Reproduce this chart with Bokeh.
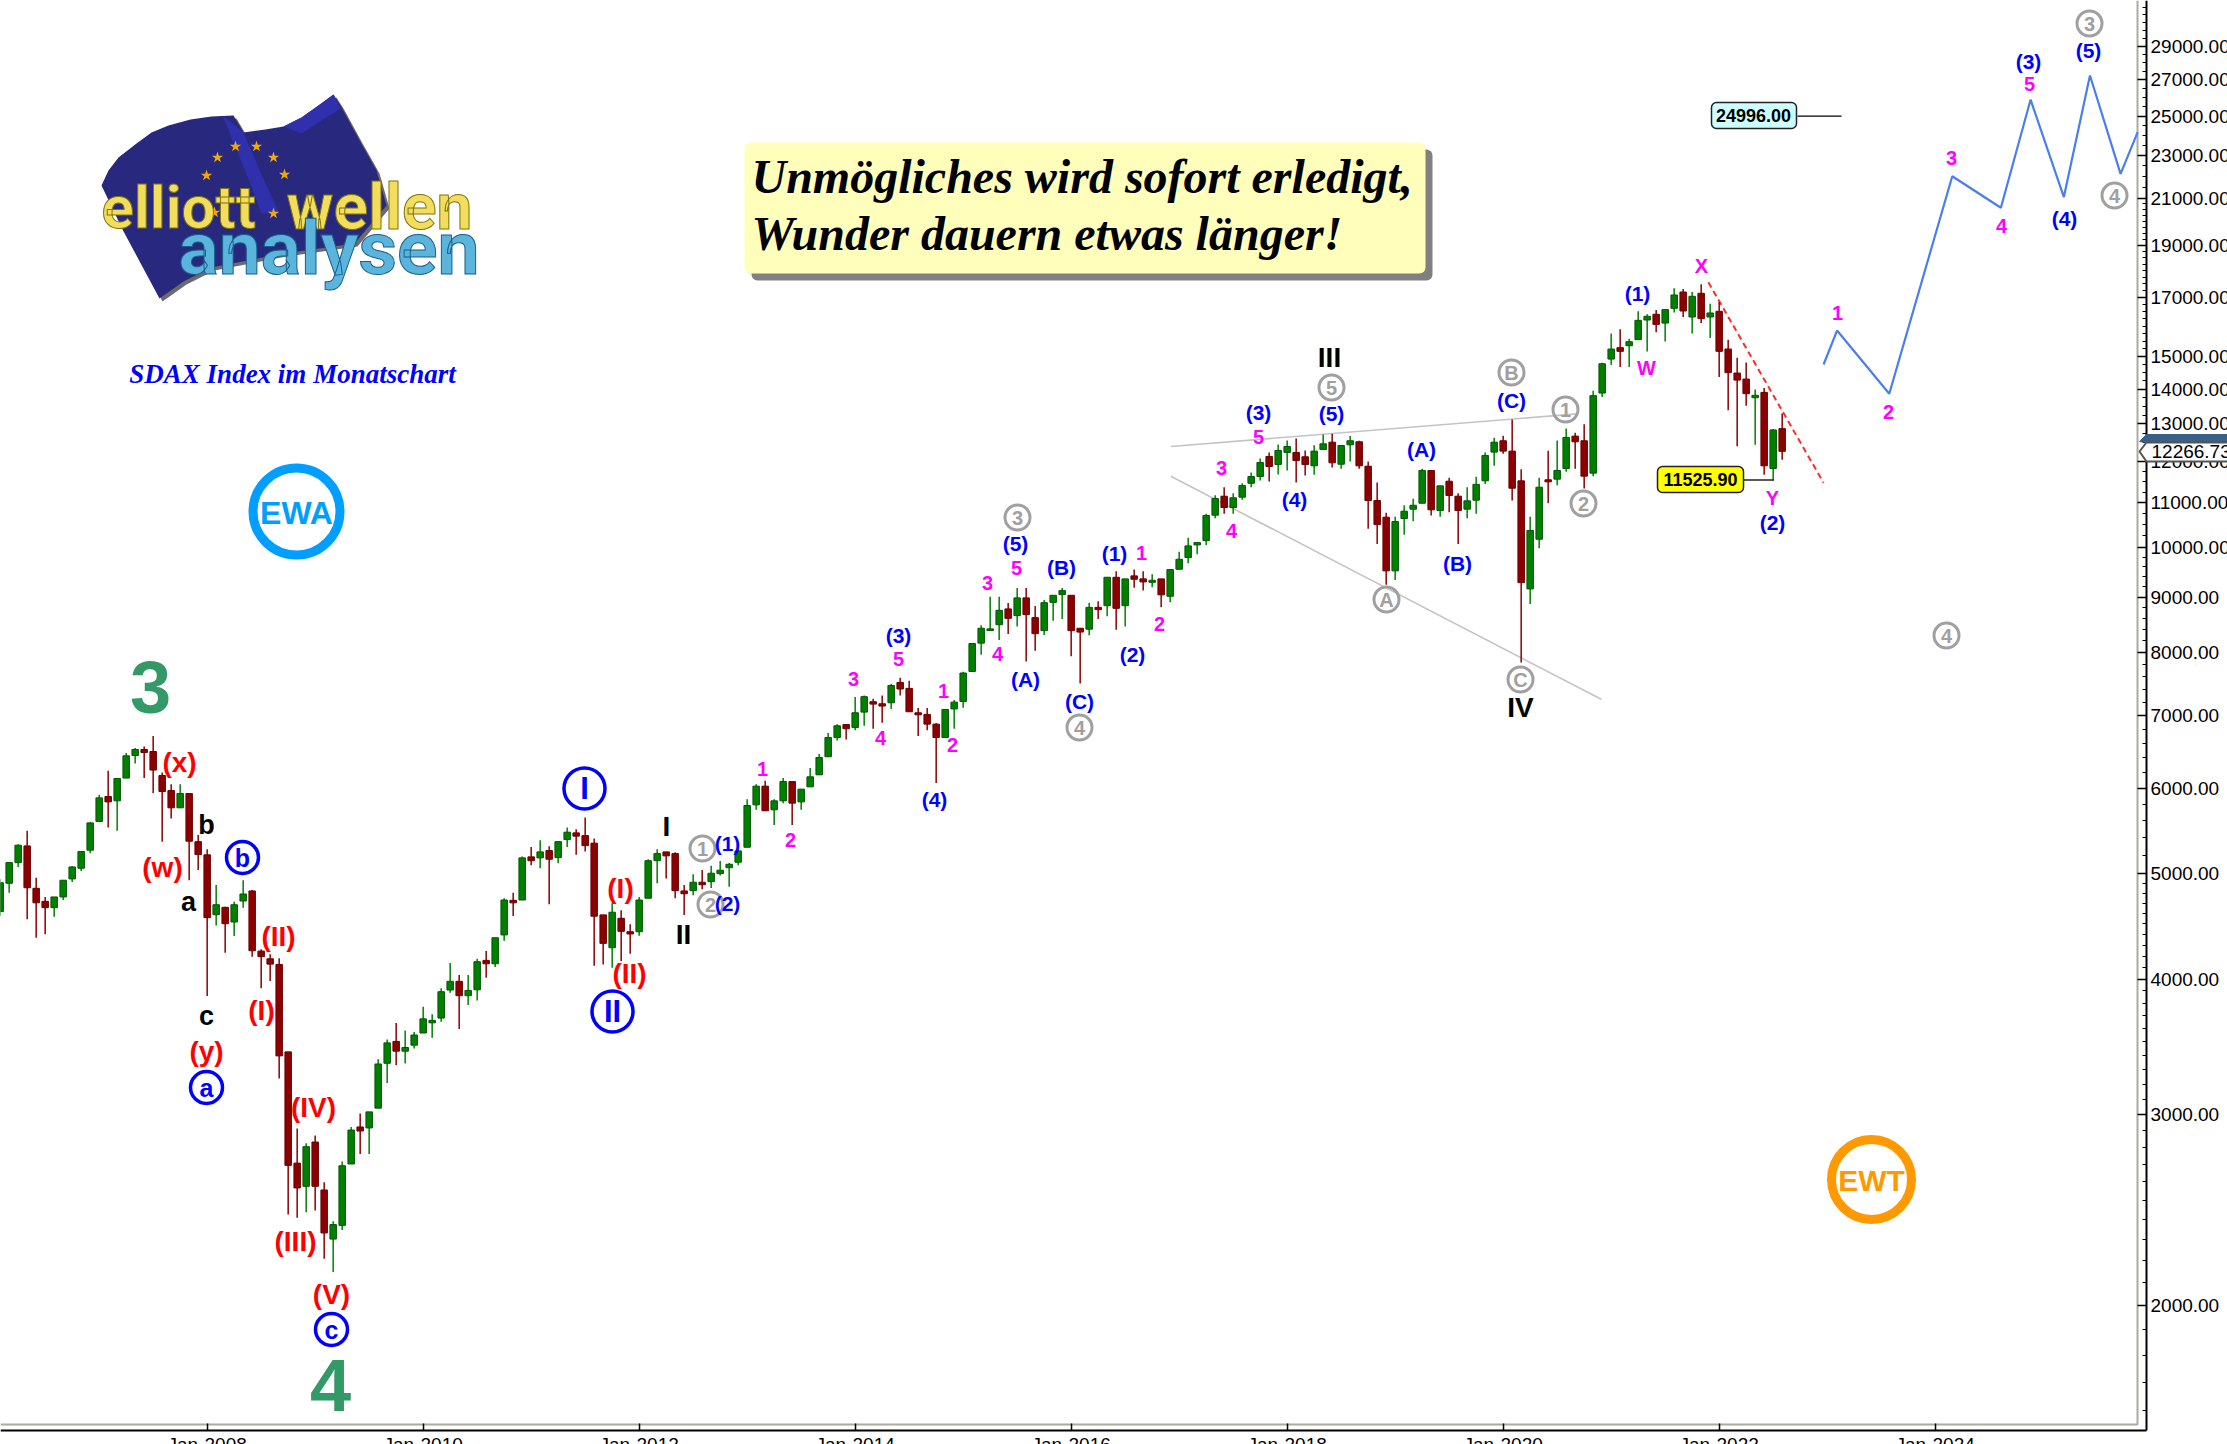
from bokeh.plotting import figure
from bokeh.embed import file_html
from bokeh.resources import INLINE
from bokeh.core.properties import value
from bokeh.models import ColumnDataSource, Range1d, FixedTicker, Label, PolyAnnotation, PrintfTickFormatter

# ---------- monthly SDAX candles, Feb-2006 .. Aug-2022 ----------
opens = [4616,4902,5122,5307,4850,4718,4655,4762,4948,5061,
5259,5590,5894,5840,6129,6430,6513,6485,6163,5969,
5754,5931,5355,5207,4586,4658,4515,4721,4823,4245,
4176,4126,3427,2706,2576,2830,2556,2303,2371,2701,
2922,2916,3041,3345,3504,3432,3476,3567,3645,3682,
3908,3981,3861,3910,4162,4132,4393,4728,4731,
5185,5174,5255,5177,5379,5456,5425,5338,4584,4275,4551,
4423,4423,4749,5143,5240,5221,4823,4826,4913,4919,
5004,5067,5126,5292,5790,6025,5730,5840,6084,5827,
6016,6172,6413,6681,6867,6823,7051,7208,7177,7192,
7509,7415,7041,7016,6873,6681,7098,7212,7686,8163,
8383,8488,8778,8654,8986,8617,8382,8901,9050,9036,
8425,8408,8807,8839,9388,8839,9416,9356,9288,9356,
9017,9549,9790,10056,10149,10711,11152,10887,11128,11462,
11629,12134,11927,12238,12238,12126,11895,12315,12507,11935,
12437,12518,11885,11050,10665,9517,10636,10848,10986,11778,
10818,11512,11152,10848,11057,11522,12246,12545,12272,11522,
9159,10178,11547,11562,11828,12669,12545,11711,13882,14921,
15286,15350,15549,16211,16410,16106,16619,17205,16315,17158,
16315,16514,15242,14485,14301,13746,13902,11828,12872]
highs = [4944,5128,5326,5480,4961,4762,4762,4934,5085,5251,
5582,5915,6224,6124,6463,6532,6554,6701,6202,6050,
6050,5931,5430,5270,4884,4664,4714,4934,4833,4261,
4216,4180,3427,2912,2822,2869,2598,2392,2716,2922,
3007,3017,3374,3519,3643,3587,3574,3771,3713,3922,
4138,4034,4034,4176,4245,4367,4749,4805,5188,
5296,5372,5304,5364,5518,5499,5637,5391,4584,4698,4629,
4493,4762,5159,5270,5240,5237,4884,4997,5043,5089,
5140,5118,5266,5861,6050,6093,5861,6129,6084,5987,
6263,6450,6744,6873,6867,7281,7302,7255,7302,7483,
7585,7537,7112,7112,6888,7091,7234,7682,8157,8477,
9010,9010,8890,9178,9178,8833,8947,9036,9178,9036,
8425,8895,8920,9388,9509,9356,9543,9509,9449,9356,
9543,9909,10208,10106,10743,11176,11366,11223,11462,11728,
12082,12238,12445,12553,12607,12289,12427,12715,12734,12419,
12669,12545,12005,11480,10766,10675,10939,11090,11820,11778,
11400,11596,11223,11366,11621,12238,12626,12680,13126,11810,
10675,11596,12282,12553,12877,12761,12993,13952,14806,15750,
15894,15583,16514,16410,16559,16573,17340,17315,17205,17486,
16783,16842,15549,14966,14815,13991,14029,12864,13295]
lows = [4574,4805,5075,4542,4367,4399,4567,4731,4916,5032,
5226,5590,5518,5480,6129,6321,6129,5936,5355,5626,
5754,4934,5043,3858,4483,4230,4383,4655,4195,3922,
3983,3239,2426,2409,2438,2447,2209,2147,2348,2701,
2759,2759,3041,3208,3331,3343,3452,3567,3532,3653,
3886,3598,3786,3823,4011,4103,4338,4574,4731,
5093,5061,4688,5115,5296,5207,5244,4114,4126,4097,4156,
4221,4386,4749,4902,4951,4749,4584,4779,4840,4854,
4983,4867,5093,5292,5730,5718,5549,5811,5549,5730,
6016,6172,6413,6638,6652,6786,6849,6806,6893,7097,
7302,7056,6701,6786,6067,6681,6806,7116,7686,7962,
8383,8216,8324,8458,7852,8033,8306,8562,8593,7937,
7493,8300,8593,8641,8400,8458,9184,9126,9190,8807,
8901,9549,9670,9859,10047,10643,10743,10743,11067,11366,
11530,11505,11678,11778,11480,11654,11671,12315,11852,11820,
12005,11820,10405,10077,9242,9336,10274,10574,10986,10704,
10675,10780,10077,10643,10743,11447,11895,12204,11050,7835,
8870,9985,10986,11413,11746,11820,11335,11636,13764,14731,
14670,14670,15549,15159,15793,15492,16469,16315,15750,16106,
15603,14362,13388,12401,13512,12437,11671,11525.90,12049]
closes = [4908,5122,5315,4856,4703,4655,4762,4934,5075,5244,
5573,5877,5827,6124,6426,6513,6471,6234,5957,5754,
5931,5360,5210,4557,4684,4499,4684,4792,4248,4195,
4129,3398,2693,2567,2802,2576,2333,2375,2691,2903,
2897,3017,3340,3493,3432,3459,3552,3676,3664,3894,
3981,3861,3905,4150,4132,4367,4731,4703,5174,
5143,5240,5159,5355,5464,5418,5310,4571,4315,4610,4427,
4402,4731,5143,5221,5196,4826,4795,4913,4887,5008,
5040,5104,5251,5782,6025,5718,5840,6084,5811,5987,
6146,6403,6681,6849,6806,7041,7286,7172,7142,7461,
7405,7056,7010,6873,6681,7091,7202,7661,8157,8425,
8414,8752,8604,8986,8672,8329,8895,9036,9126,8382,
8357,8807,8765,9388,8789,9356,9348,9296,9328,9044,
9543,9754,10035,10106,10704,11098,10887,11114,11406,11629,
11979,11877,12289,12393,12030,11927,12272,12464,11971,12419,
12545,11895,11050,10499,9517,10567,10802,10939,11778,10834,
11400,11169,10818,11043,11437,12160,12507,12272,11342,9282,
10368,11366,11497,11778,12634,12518,11636,13805,14774,15242,
15168,15482,16200,16340,16061,16573,17096,16524,17049,16260,
16455,15168,14497,14270,13864,13815,11895,12836,12266.73]

# forecast path: month number (0 = Feb-2006), index level
forecast_month = [202.6,204.1,209.9,216.9,222.3,225.6,229.3,232.2,235.6,237.5]
forecast_level = [14750,15853,13862,22000,20573,25880,21046,27245,22112,24160]

# triangle lines and falling trend line
tri_up_month, tri_up_level = [130.07,175.2], [12392,13283]
tri_low_month, tri_low_level = [130.07,177.9], [11633,7245]
trend_month, trend_level = [189.8,202.6], [17564,11474]

y_labelled = [2000,3000,4000,5000,6000,7000,8000,9000,10000,11000,12000,13000,14000,15000,17000,19000,21000,23000,25000,27000,29000]
x_tick_months = [23,47,71,95,119,143,167,191,215]
x_tick_labels = ["Jan-2008","Jan-2010","Jan-2012","Jan-2014","Jan-2016","Jan-2018","Jan-2020","Jan-2022","Jan-2024"]

# ---------- window pixel <-> data helpers ----------
def bx(px):
    return (px + 0.33) / 9.0
def lv(py):
    return 2000 * 10 ** ((1305 - py) / 1084.4)

p = figure(width=2227, height=1444, output_backend="svg", toolbar_location=None,
           y_axis_type="log", y_axis_location="right",
           x_range=Range1d(bx(0), bx(2227)), y_range=Range1d(lv(1444), lv(0)),
           min_border_left=0, min_border_top=0, min_border_right=0, min_border_bottom=0)
p.grid.visible = False
p.outline_line_color = None
p.background_fill_color = "white"

FONT = "Liberation Sans"
xa, ya = p.xaxis[0], p.yaxis[0]
xa.fixed_location = lv(1430)
ya.fixed_location = bx(2146)
xa.bounds = (bx(0), bx(2146))
ya.bounds = (lv(1430), lv(0))
minor = (list(range(1600, 5000, 100)) + list(range(5000, 10000, 200)) +
         list(range(10000, 21000, 250)) + list(range(21000, 32000, 500)))
ya.ticker = FixedTicker(ticks=y_labelled, minor_ticks=minor)
ya.formatter = PrintfTickFormatter(format="%.2f")
ya.major_tick_in, ya.major_tick_out = 9, 0
ya.minor_tick_in, ya.minor_tick_out = 4, 0
ya.axis_line_width = 2
ya.major_tick_line_width = 1.5
ya.major_label_standoff = 4
ya.major_label_text_font = FONT
ya.major_label_text_font_size = "19px"
ya.major_label_text_color = "black"
xa.ticker = FixedTicker(ticks=x_tick_months)
xa.major_label_overrides = dict(zip(x_tick_months, x_tick_labels))
xa.major_tick_in, xa.major_tick_out = 7, 0
xa.minor_tick_line_color = None
xa.axis_line_width = 2
xa.major_tick_line_width = 1.5
xa.major_label_standoff = 3
xa.major_label_text_font = FONT
xa.major_label_text_font_size = "19px"
xa.major_label_text_color = "black"

# inner grey frame
p.line([bx(0), bx(2137), bx(2137)], [lv(1424), lv(1424), lv(0)], line_color="#acac9e", line_width=2)

# trend lines
p.line(tri_up_month, tri_up_level, line_color="#c4c4c4", line_width=1.6)
p.line(tri_low_month, tri_low_level, line_color="#c4c4c4", line_width=1.6)
p.line(trend_month, trend_level, line_color="#ff2a2a", line_width=2, line_dash="6 4")

# forecast
p.line(forecast_month, forecast_level, line_color="#4a7df0", line_width=2.2)

# candles
months = list(range(len(closes)))
colors = ["#007f00" if c >= o else "#8b0000" for o, c in zip(opens, closes)]
edges = ["#005a00" if c >= o else "#6e0000" for o, c in zip(opens, closes)]
src = ColumnDataSource(dict(x=months, o=opens, h=highs, l=lows, c=closes,
                            top=[max(a, b) for a, b in zip(opens, closes)],
                            bot=[min(a, b) for a, b in zip(opens, closes)],
                            col=colors, edge=edges))
p.segment("x", "h", "x", "l", source=src, line_color="col", line_width=1.5)
p.vbar(x="x", top="top", bottom="bot", width=0.72, source=src, fill_color="col", line_color="edge", line_width=1)

# ---------- title box ----------
p.quad(left=[bx(751)], right=[bx(1432)], top=[lv(149)], bottom=[lv(280)], fill_color="#808080", line_color=None, border_radius=6)
p.quad(left=[bx(744)], right=[bx(1425)], top=[lv(142)], bottom=[lv(273)], fill_color="#ffffbb", line_color=None, border_radius=6)
for txt, py in (("Unmögliches wird sofort erledigt,", 176), ("Wunder dauern etwas länger!", 233)):
    p.text([bx(751)], [lv(py)], text=[txt], text_font=value("Liberation Serif"), text_font_style="bold italic",
           text_font_size="48px", text_color="black", text_align="left", text_baseline="middle")
p.text([bx(292)], [lv(373)], text=["SDAX Index im Monatschart"], text_font=value("Liberation Serif"),
       text_font_style="bold italic", text_font_size="27px", text_color="#0000ff", text_align="center", text_baseline="middle")

# ---------- logo ----------
flag_px = [101,108,118,136,151,168,190,211,233,243,265,283,301,318,333,340,358,376,386,354,283,247,211,183,159,122]
flag_py = [185,170,157,143,132,125,119,116,115,132,129,126,117,105,94,105,138,170,205,243,253,260,267,281,298,229]
p.patch([bx(x + 3) for x in flag_px], [lv(y + 3) for y in flag_py], fill_color="#6a6a70", line_color=None)
p.patch([bx(x) for x in flag_px], [lv(y) for y in flag_py], fill_color="#27287e", line_color=None)
for xs_, ys_ in (([222,243,265,279,261,247], [115,132,183,213,213,176]),
                 ([283,301,318,333,340,301], [126,117,105,94,108,133])):
    p.patch([bx(x) for x in xs_], [lv(y) for y in ys_], fill_color="#3030ac", line_color=None)
star_px = [235,256,273,284,217,206,273,214]
star_py = [146,146,157,174,157,175,213,212]
p.scatter([bx(x) for x in star_px], [lv(y) for y in star_py], marker="star", size=12, fill_color="#f2a900", line_color=None)
LOGO = "Roboto"
for txt, x, y, size, col, out in (("elliott", 101, 207, "60px", "#f2de5c", "#7f7410"),
                                  ("wellen", 286, 207, "64px", "#f2de5c", "#7f7410"),
                                  ("analysen", 178, 247, "75px", "#5ab4dc", "#17608c")):
    p.text([bx(x)], [lv(y)], text=[txt], text_font=value(LOGO), text_font_style="bold", text_font_size=size,
           text_color=col, text_outline_color=out, text_align="left", text_baseline="middle")

# ---------- EWA / EWT rings ----------
p.scatter([bx(296)], [lv(511)], marker="circle", size=87, fill_color=None, line_color="#009fff", line_width=9)
p.text([bx(296)], [lv(512)], text=["EWA"], text_font=value(FONT), text_font_style="bold", text_font_size="32px",
       text_color="#009fff", text_align="center", text_baseline="middle")
p.scatter([bx(1871)], [lv(1179)], marker="circle", size=80, fill_color=None, line_color="#ff9900", line_width=9)
p.text([bx(1871)], [lv(1180)], text=["EWT"], text_font=value(FONT), text_font_style="bold", text_font_size="30px",
       text_color="#ff9900", text_align="center", text_baseline="middle")

# ---------- wave labels ----------
def labels(items, color, size):
    p.text([bx(i[1]) for i in items], [lv(i[2]) for i in items], text=[i[0] for i in items],
           text_font=value(FONT), text_font_style="bold", text_font_size=size, text_color=color,
           text_align="center", text_baseline="middle")

def ringed(items, line, d, size, lw=3):
    p.scatter([bx(i[1]) for i in items], [lv(i[2]) for i in items], marker="circle", size=d,
              fill_color=None, line_color=line, line_width=lw)
    labels(items, line, size)

labels([("3", 150, 686), ("4", 330, 1384)], "#339966", "74px")
labels([("(x)", 179, 762), ("(w)", 162, 867), ("(y)", 206, 1051), ("(I)", 261, 1010), ("(II)", 278, 936),
        ("(III)", 295, 1241), ("(IV)", 313, 1107), ("(V)", 331, 1294), ("(I)", 620, 888), ("(II)", 629, 973)],
       "#ff0000", "28px")
labels([("b", 206, 824), ("a", 188, 901), ("c", 206, 1015)], "black", "27px")
labels([("I", 666, 826), ("II", 683, 934), ("III", 1329, 357), ("IV", 1520, 707)], "black", "28px")
ringed([("b", 242, 857), ("a", 206, 1087), ("c", 331, 1329)], "#0000ff", 32, "25px", 3.5)
ringed([("I", 584, 788), ("II", 612, 1011)], "#0000ff", 41, "31px", 3.5)
ringed([("1", 702, 848), ("2", 710, 904), ("3", 1017, 517), ("4", 1079, 727), ("5", 1331, 387), ("A", 1386, 599),
        ("C", 1520, 679), ("B", 1511, 372), ("1", 1565, 409), ("2", 1583, 503), ("4", 1946, 635), ("4", 2114, 195),
        ("3", 2089, 23)], "#a0a0a0", 25, "20px")
labels([("(1)", 727, 843), ("(2)", 727, 903), ("(3)", 898, 635), ("(4)", 934, 799), ("(A)", 1025, 679),
        ("(5)", 1015, 543), ("(B)", 1061, 567), ("(1)", 1114, 553), ("(2)", 1132, 654), ("(C)", 1079, 701),
        ("(3)", 1258, 412), ("(4)", 1294, 499), ("(5)", 1331, 413), ("(A)", 1421, 449), ("(B)", 1457, 563),
        ("(C)", 1511, 400), ("(1)", 1637, 293), ("(2)", 1772, 522), ("(3)", 2028, 61), ("(4)", 2064, 218),
        ("(5)", 2088, 50)], "#0000ff", "21px")
labels([("1", 762, 768), ("2", 790, 839), ("3", 853, 678), ("4", 880, 737), ("5", 898, 658), ("1", 943, 690),
        ("2", 952, 744), ("3", 987, 582), ("4", 997, 653), ("5", 1016, 567), ("1", 1141, 552), ("2", 1159, 623),
        ("3", 1221, 467), ("4", 1231, 530), ("5", 1258, 436), ("W", 1646, 367), ("X", 1701, 265), ("Y", 1772, 497),
        ("1", 1837, 312), ("2", 1888, 411), ("3", 1951, 157), ("4", 2001, 225), ("5", 2029, 83)],
       "#ff00ff", "20px")

# ---------- price call-outs ----------
p.line([bx(1797), bx(1841)], [24996, 24996], line_color="black", line_width=1.3)
p.quad(left=[bx(1711)], right=[bx(1796)], top=[lv(102)], bottom=[lv(128)], fill_color="#ccffff", line_color="#222222",
       line_width=1.5, border_radius=5)
p.text([bx(1753)], [lv(115)], text=["24996.00"], text_font=value(FONT), text_font_style="bold", text_font_size="18px",
       text_color="black", text_align="center", text_baseline="middle")
p.line([bx(1743), bx(1773)], [lv(479.5), lv(479.5)], line_color="black", line_width=1.3)
p.quad(left=[bx(1657)], right=[bx(1743)], top=[lv(466)], bottom=[lv(492)], fill_color="#ffff00", line_color="#222222",
       line_width=1.5, border_radius=5)
p.text([bx(1700)], [lv(479)], text=["11525.90"], text_font=value(FONT), text_font_style="bold", text_font_size="18px",
       text_color="black", text_align="center", text_baseline="middle")

# ---------- last-price tag over the axis ----------
p.add_layout(PolyAnnotation(xs=[bx(2139), bx(2146), bx(2240), bx(2240), bx(2146)], ys=[lv(441), lv(434), lv(434), lv(442), lv(442)],
                            xs_units="data", ys_units="data", fill_color="#3b6087", fill_alpha=1, line_color="#3b6087", line_alpha=1))
p.add_layout(PolyAnnotation(xs=[bx(2139), bx(2146), bx(2240), bx(2240), bx(2146)], ys=[lv(451), lv(442), lv(442), lv(461), lv(461)],
                            xs_units="data", ys_units="data", fill_color="white", fill_alpha=1, line_color="#555555", line_alpha=1, line_width=2))
p.add_layout(Label(x=bx(2151), y=closes[-1], text="12266.73", text_font=FONT, text_font_size="19px",
                   text_color="black", text_align="left", text_baseline="middle"))

open("out.html", "w").write(file_html(p, INLINE))
